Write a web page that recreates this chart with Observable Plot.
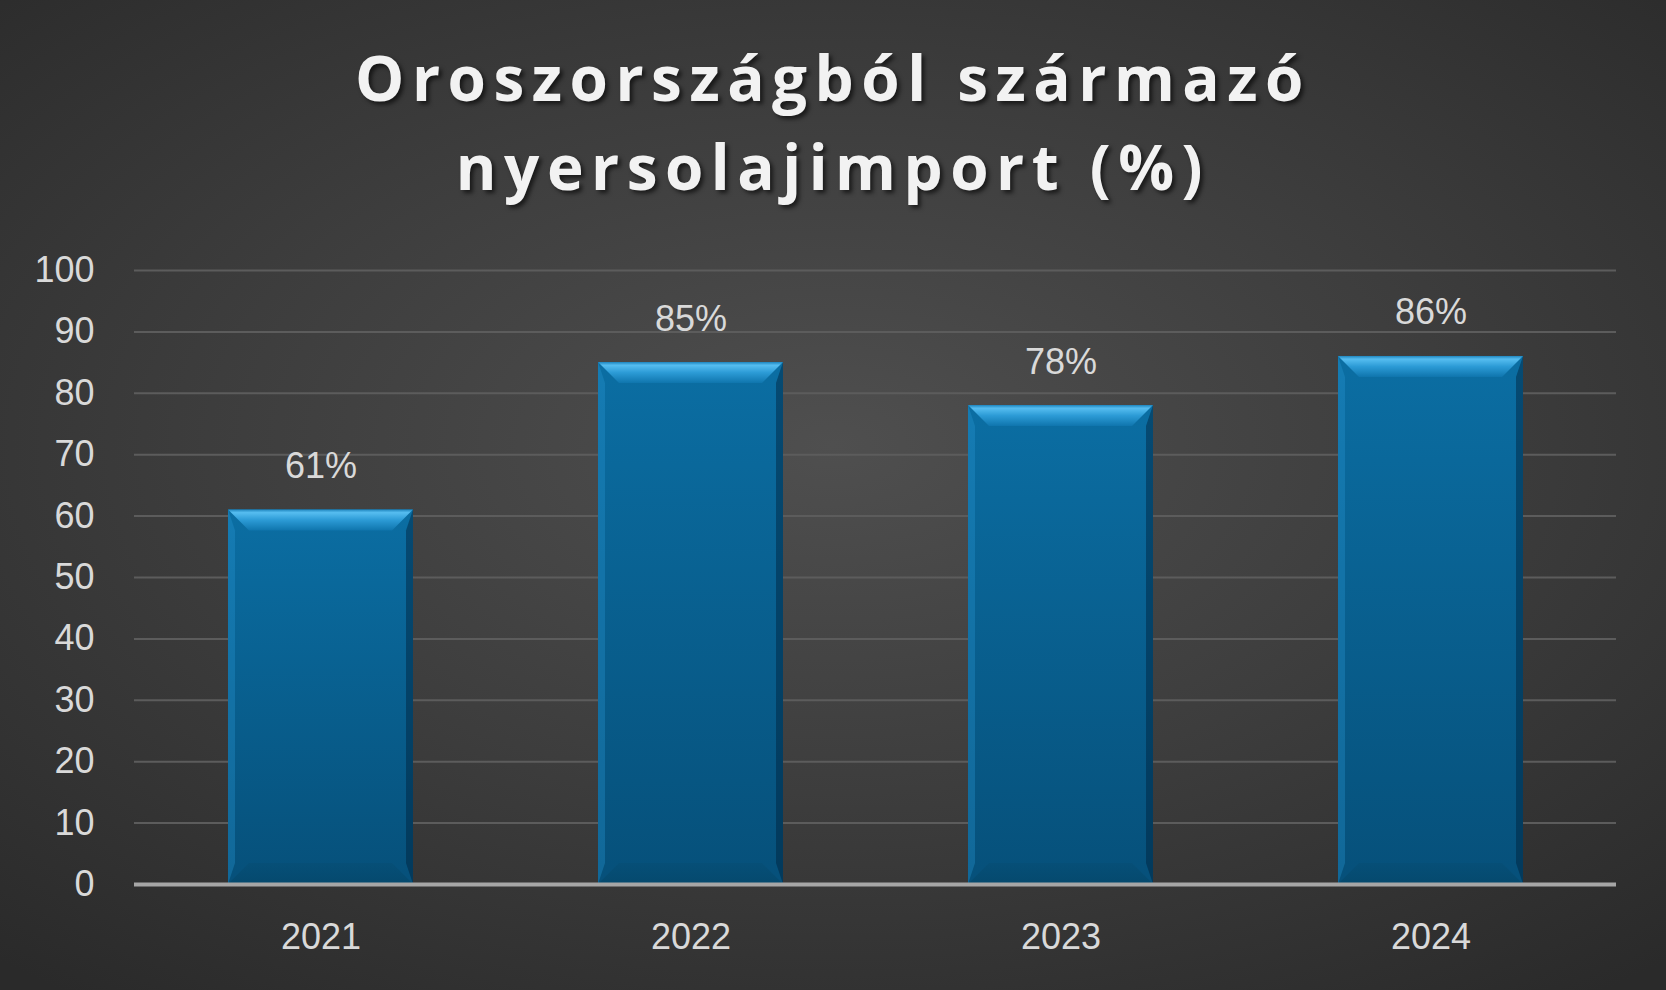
<!DOCTYPE html>
<html>
<head>
<meta charset="utf-8">
<script src="https://cdn.jsdelivr.net/npm/d3@7"></script>
<script src="https://cdn.jsdelivr.net/npm/@observablehq/plot@0.6"></script>
<style>
  html, body { margin: 0; padding: 0; }
  body {
    width: 1666px; height: 990px; overflow: hidden;
    background: radial-gradient(ellipse 75% 70% at 50% 45%, #4f4f4f 0%, #3d3d3d 50%, #2a2a2a 100%);
    font-family: "Liberation Sans", Arial, sans-serif;
  }
  #title {
    height: 230px; box-sizing: border-box; padding-top: 33px;
    text-align: center; color: #f2f2f2;
    font-family: "Open Sans", Lato, sans-serif; font-weight: 700;
    font-size: 62px; line-height: 89px; letter-spacing: 7.5px;
    text-shadow: 3px 3px 4px rgba(0,0,0,0.6);
  }
  #chart svg { display: block; background: transparent; }
</style>
</head>
<body>
<div id="title">Oroszországból származó<br>nyersolajimport (%)</div>
<div id="chart"></div>
<script>
const years = ["2021", "2022", "2023", "2024"];
const values = [61, 85, 78, 86];
const labels = ["61%", "85%", "78%", "86%"];
const yTicks = [0, 10, 20, 30, 40, 50, 60, 70, 80, 90, 100];

const data = years.map((year, i) => ({year, value: values[i], label: labels[i]}));

function bevel(index, scales, vals, dims, ctx, next) {
  const g = next(index, scales, vals, dims, ctx);
  const ns = "http://www.w3.org/2000/svg";
  const b = 21, s = 7;
  g.querySelectorAll("rect").forEach(r => {
    const x = +r.getAttribute("x"), y = +r.getAttribute("y");
    const w = +r.getAttribute("width"), h = +r.getAttribute("height");
    const polys = [
      [[x, y], [x + w, y], [x + w - b, y + b], [x + b, y + b], "url(#bevTop)"],
      [[x, y + h], [x + w, y + h], [x + w - b, y + h - b], [x + b, y + h - b], "url(#bevBot)"],
      [[x, y], [x + s, y + b], [x + s, y + h - b], [x, y + h], "rgba(40,150,210,0.35)"],
      [[x + w, y], [x + w - s, y + b], [x + w - s, y + h - b], [x + w, y + h], "rgba(0,30,55,0.45)"]
    ];
    polys.forEach(p => {
      const el = document.createElementNS(ns, "polygon");
      el.setAttribute("points", p.slice(0, 4).map(d => d.join(",")).join(" "));
      el.setAttribute("fill", p[4]);
      g.appendChild(el);
    });
  });
  return g;
}

const plot = Plot.plot({
  width: 1666,
  height: 760,
  marginTop: 40,
  marginBottom: 106,
  marginLeft: 134,
  marginRight: 50,
  style: {background: "transparent", color: "#d9d9d9", fontFamily: "'Liberation Sans', Arial, sans-serif", fontSize: "36px"},
  x: {domain: years, paddingInner: 0.5, paddingOuter: 0.25, label: null},
  y: {domain: [0, 100], label: null},
  marks: [
    () => {
      const ns = "http://www.w3.org/2000/svg";
      const defs = document.createElementNS(ns, "defs");
      defs.innerHTML = `
        <linearGradient id="barGrad" x1="0" y1="0" x2="0" y2="1">
          <stop offset="0" stop-color="#0b6ea3"/>
          <stop offset="1" stop-color="#06507a"/>
        </linearGradient>
        <linearGradient id="bevTop" x1="0" y1="0" x2="0" y2="1">
          <stop offset="0" stop-color="#1f86bf"/>
          <stop offset="0.15" stop-color="#56bdf0"/>
          <stop offset="0.5" stop-color="#2c9bd6"/>
          <stop offset="1" stop-color="#0f75ad"/>
        </linearGradient>
        <linearGradient id="bevBot" x1="0" y1="1" x2="0" y2="0">
          <stop offset="0" stop-color="#05496d"/>
          <stop offset="1" stop-color="#064d74" stop-opacity="0.6"/>
        </linearGradient>
        <filter id="shadow" x="-20%" y="-10%" width="140%" height="120%">
          <feDropShadow dx="3" dy="2" stdDeviation="5" flood-color="#000" flood-opacity="0.55"/>
        </filter>`;
      return defs;
    },
    Plot.gridY(yTicks, {stroke: "#5c5c5c", strokeOpacity: 1, strokeWidth: 2}),
    Plot.axisY({ticks: yTicks, tickSize: 0, tickPadding: 40, fontSize: 36, fill: "#d9d9d9"}),
    Plot.axisX({tickSize: 0, tickPadding: 39, fontSize: 36, fill: "#d9d9d9"}),
    Plot.barY(data, {x: "year", y: "value", fill: "url(#barGrad)", style: {filter: "url(#shadow)"}, render: bevel}),
    Plot.ruleY([0], {stroke: "#a6a6a6", strokeWidth: 4}),
    Plot.text(data, {x: "year", y: "value", text: "label", dy: -32, lineAnchor: "bottom", fill: "#d9d9d9", fontSize: 36})
  ]
});
document.getElementById("chart").appendChild(plot);
</script>
</body>
</html>
